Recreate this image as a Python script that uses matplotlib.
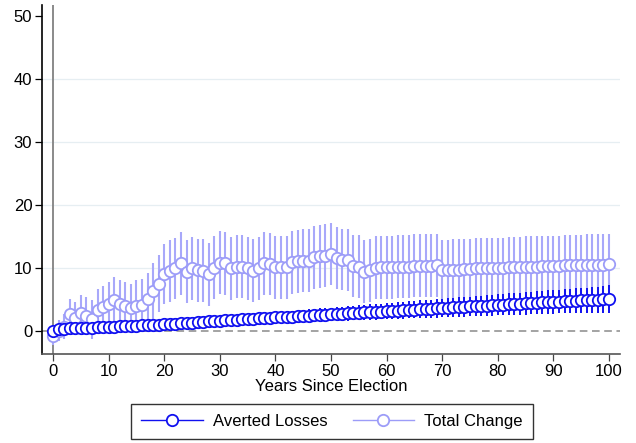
import matplotlib
matplotlib.use("Agg")
import matplotlib.pyplot as plt
from matplotlib.lines import Line2D

plt.rcParams["font.family"] = ["Liberation Sans", "DejaVu Sans"]

years = list(range(0, 101))

# Total Change point estimates, read year by year
total_change = [
    -0.8, 0.0, 0.6, 2.7, 2.0, 2.8, 2.3, 1.8, 3.3, 3.7,
    4.2, 4.9, 4.3, 3.9, 3.6, 4.0, 4.1, 5.0, 6.3, 7.5,
    9.0, 9.5, 9.9, 10.7, 9.4, 9.9, 9.6, 9.5, 9.0, 10.0,
    10.8, 10.7, 9.9, 10.2, 10.2, 9.9, 9.5, 9.9, 10.7, 10.6,
    10.1, 10.1, 10.1, 10.9, 11.0, 11.1, 11.1, 11.7, 11.8, 11.9,
    12.2, 11.6, 11.3, 11.2, 10.3, 10.2, 9.4, 9.6, 10.0, 10.1,
    10.1, 10.1, 10.2, 10.2, 10.2, 10.3, 10.3, 10.3, 10.3, 10.4,
    9.6, 9.6, 9.7, 9.7, 9.8, 9.8, 9.9, 9.9, 9.9, 10.0,
    10.0, 10.0, 10.1, 10.1, 10.1, 10.2, 10.2, 10.2, 10.3, 10.3,
    10.3, 10.3, 10.4, 10.4, 10.4, 10.4, 10.5, 10.5, 10.5, 10.5,
    10.6,
]
# Total Change CI half-widths
total_ci = [
    1.4, 1.7, 2.0, 2.4, 2.6, 2.8, 3.0, 3.1, 3.3, 3.4,
    3.6, 3.7, 3.8, 3.9, 3.9, 4.0, 4.1, 4.2, 4.4, 4.6,
    4.8, 4.9, 4.9, 5.0, 5.0, 5.0, 5.0, 5.0, 5.0, 5.0,
    5.0, 5.0, 5.0, 5.0, 5.0, 5.0, 5.0, 5.0, 5.0, 5.0,
    5.0, 5.0, 5.0, 5.0, 5.0, 5.0, 5.0, 5.0, 5.0, 5.0,
    4.9, 4.9, 4.9, 4.9, 4.9, 5.0, 5.0, 5.0, 5.0, 5.0,
    5.0, 5.0, 5.0, 5.0, 5.0, 5.0, 5.0, 5.0, 5.0, 5.0,
    4.8, 4.8, 4.8, 4.8, 4.8, 4.8, 4.8, 4.8, 4.8, 4.8,
    4.8, 4.8, 4.8, 4.8, 4.8, 4.8, 4.8, 4.8, 4.8, 4.8,
    4.8, 4.8, 4.8, 4.8, 4.8, 4.8, 4.8, 4.8, 4.8, 4.8,
    4.8,
]

# Averted Losses point estimates
averted = [
    0.00, 0.30, 0.33, 0.36, 0.39, 0.42, 0.45, 0.48, 0.52, 0.56,
    0.60, 0.64, 0.68, 0.72, 0.76, 0.80, 0.84, 0.88, 0.92, 0.96,
    1.00, 1.06, 1.12, 1.18, 1.24, 1.30, 1.36, 1.42, 1.48, 1.54,
    1.60, 1.65, 1.70, 1.75, 1.80, 1.85, 1.90, 1.95, 2.00, 2.05,
    2.10, 2.15, 2.20, 2.25, 2.30, 2.35, 2.40, 2.45, 2.50, 2.55,
    2.60, 2.65, 2.70, 2.75, 2.80, 2.85, 2.90, 2.95, 3.00, 3.05,
    3.10, 3.15, 3.20, 3.25, 3.30, 3.35, 3.40, 3.45, 3.50, 3.55,
    3.60, 3.65, 3.70, 3.75, 3.80, 3.85, 3.90, 3.95, 4.00, 4.05,
    4.10, 4.15, 4.20, 4.25, 4.30, 4.35, 4.40, 4.45, 4.50, 4.55,
    4.60, 4.64, 4.68, 4.72, 4.76, 4.80, 4.84, 4.88, 4.92, 4.96,
    5.00,
]
# Averted Losses CI half-widths
averted_ci = [
    0.05, 0.10, 0.12, 0.14, 0.16, 0.18, 0.20, 0.22, 0.24, 0.26,
    0.28, 0.30, 0.32, 0.34, 0.36, 0.38, 0.40, 0.42, 0.44, 0.46,
    0.48, 0.50, 0.52, 0.54, 0.56, 0.58, 0.60, 0.62, 0.64, 0.66,
    0.68, 0.70, 0.72, 0.74, 0.76, 0.78, 0.80, 0.82, 0.84, 0.86,
    0.88, 0.90, 0.92, 0.94, 0.96, 0.98, 1.00, 1.02, 1.04, 1.06,
    1.08, 1.10, 1.12, 1.14, 1.16, 1.18, 1.20, 1.22, 1.24, 1.26,
    1.28, 1.30, 1.32, 1.34, 1.36, 1.38, 1.40, 1.42, 1.44, 1.46,
    1.48, 1.50, 1.52, 1.54, 1.56, 1.58, 1.60, 1.62, 1.64, 1.66,
    1.68, 1.70, 1.72, 1.74, 1.76, 1.78, 1.80, 1.82, 1.84, 1.86,
    1.88, 1.90, 1.92, 1.94, 1.96, 1.98, 2.00, 2.03, 2.06, 2.10,
    2.20,
]

x_ticks = list(range(0, 101, 10))
y_ticks = [0, 10, 20, 30, 40, 50]

C_AVERT = "#1010f0"
C_TOTAL = "#9c9cf8"
C_TOTAL_CI = "#a8a8fa"
MS, MEW = 8.2, 1.3

fig = plt.figure(figsize=(6.36, 4.43), dpi=100)
ax = fig.add_axes([0.066, 0.201, 0.909, 0.788])

for y in [10, 20, 30, 40]:
    ax.axhline(y, color="#e6eef2", lw=0.9, zorder=0)
ax.axvline(0, color="#8a8a8a", lw=1.4, zorder=1)
ax.axhline(0, color="#8a8a8a", lw=1.1, ls=(0, (5, 3)), zorder=1)

ax.errorbar(years, total_change, yerr=total_ci, fmt="none",
            ecolor=C_TOTAL_CI, elinewidth=1.5, capsize=0, zorder=2)
ax.plot(years, total_change, "o", ms=MS, mfc="white", mec=C_TOTAL,
        mew=MEW, zorder=3)
ax.errorbar(years, averted, yerr=averted_ci, fmt="none",
            ecolor=C_AVERT, elinewidth=1.4, capsize=0, zorder=4)
ax.plot(years, averted, "o", ms=MS, mfc="white", mec=C_AVERT,
        mew=MEW, zorder=5)

ax.set_xlim(-2, 102)
ax.set_ylim(-3.7, 51.8)
ax.set_xticks(x_ticks)
ax.set_yticks(y_ticks)
ax.tick_params(labelsize=12, length=5, width=0.9, direction="out", pad=2)
ax.tick_params(axis="x", colors="#444444", labelcolor="black")
for s in ["top", "right"]:
    ax.spines[s].set_visible(False)
ax.spines["left"].set_color("black")
ax.spines["left"].set_linewidth(1.2)
ax.spines["bottom"].set_color("#555555")
ax.spines["bottom"].set_linewidth(1.2)
ax.set_xlabel("Years Since Election", fontsize=12, labelpad=0)

handles = [
    Line2D([], [], color=C_AVERT, lw=1.0, marker="o", ms=MS, mfc="white",
           mec=C_AVERT, mew=MEW),
    Line2D([], [], color=C_TOTAL, lw=1.0, marker="o", ms=MS, mfc="white",
           mec=C_TOTAL, mew=MEW),
]
leg = fig.legend(handles, ["Averted Losses", "Total Change"], ncol=2,
                 loc="center", bbox_to_anchor=(0.522, 0.049), fontsize=12,
                 frameon=True, fancybox=False, edgecolor="black",
                 handlelength=3.7, columnspacing=1.5, borderpad=0.6,
                 handletextpad=0.6)
leg.get_frame().set_linewidth(1.0)

fig.savefig("out.png", dpi=100)
